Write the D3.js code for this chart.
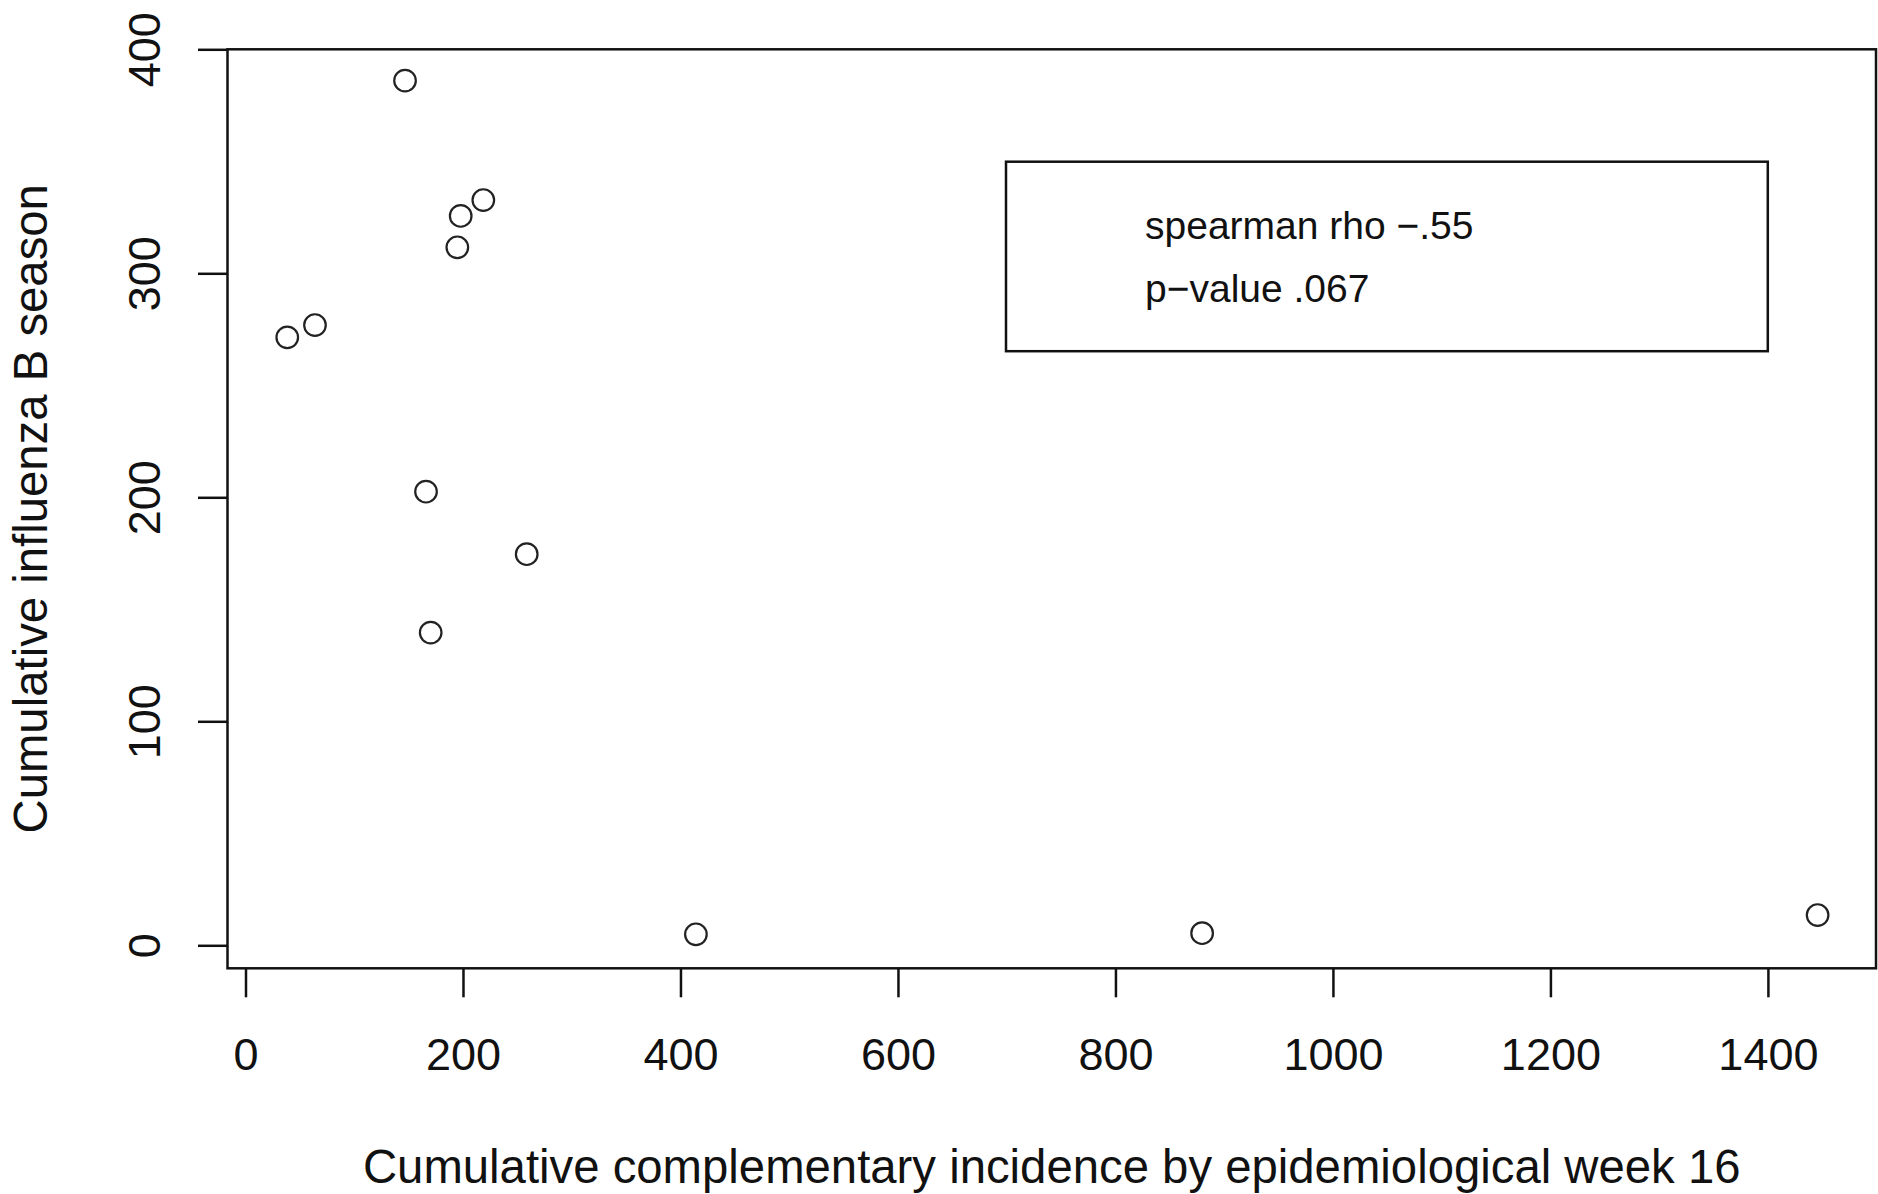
<!DOCTYPE html>
<html>
<head>
<meta charset="utf-8">
<script src="https://cdn.jsdelivr.net/npm/d3@7"></script>
<style>
  body { margin: 0; background: #fff; }
  svg text { font-family: "Liberation Sans", Arial, sans-serif; fill: #111; }
  .axis line { stroke: #111; stroke-width: 2.5; }
  .axis path { display: none; }
</style>
</head>
<body>
<svg width="1878" height="1194"></svg>
<script>
// complementary incidence (x) vs influenza B season (y), one point per season
var incidence = [146.7, 197.9, 218.7, 194.8, 38.4, 63.9, 166.0, 258.6, 170.3, 414.2, 879.7, 1445.7];
var fluB      = [386.0, 325.6, 332.7, 311.6, 271.4, 276.9, 202.5, 174.6, 139.6, 4.9, 5.4, 13.5];

var xTicks = [0, 200, 400, 600, 800, 1000, 1200, 1400];
var yTicks = [0, 100, 200, 300, 400];
var legendLines = ["spearman rho \u2212.55", "p\u2212value .067"];

var xTitle = "Cumulative complementary incidence by epidemiological week 16";
var yTitle = "Cumulative influenza B season";

// note: "top" is window.top, so plot edges get their own names
var svg = d3.select("svg"),
    plotLeft = 227.5, plotRight = 1876, plotTop = 49.3, plotBottom = 968.3;

var x = d3.scaleLinear()
    .domain([-16.55, 1499.4])
    .range([plotLeft, plotRight]);

var y = d3.scaleLinear()
    .domain([-10.27, 400])
    .range([plotBottom, plotTop]);

// x axis
var gx = svg.append("g")
    .attr("class", "axis")
    .attr("transform", "translate(0," + plotBottom + ")")
    .call(d3.axisBottom(x).tickValues(xTicks).tickSize(29).tickSizeOuter(0));
gx.selectAll("text").remove();
gx.selectAll(".tick").append("text")
    .attr("y", 102)
    .attr("text-anchor", "middle")
    .style("font-size", "45px")
    .text(function(d) { return d; });

// y axis, labels rotated like base R
var gy = svg.append("g")
    .attr("class", "axis")
    .attr("transform", "translate(" + plotLeft + ",0)")
    .call(d3.axisLeft(y).tickValues(yTicks).tickSize(29.5).tickSizeOuter(0));
gy.selectAll("text").remove();
gy.selectAll(".tick").append("text")
    .attr("transform", "translate(-68,0) rotate(-90)")
    .attr("text-anchor", "middle")
    .style("font-size", "45px")
    .text(function(d) { return d; });

// plot box
svg.append("rect")
    .attr("x", plotLeft)
    .attr("y", plotTop)
    .attr("width", plotRight - plotLeft)
    .attr("height", plotBottom - plotTop)
    .style("fill", "none")
    .style("stroke", "#111")
    .style("stroke-width", 2.5);

// points
svg.append("g")
  .selectAll("circle")
  .data(incidence)
  .enter().append("circle")
    .attr("cx", function(d) { return x(d); })
    .attr("cy", function(d, i) { return y(fluB[i]); })
    .attr("r", 10.8)
    .style("fill", "none")
    .style("stroke", "#222")
    .style("stroke-width", 2.2);

// legend box
var legend = svg.append("g");
legend.append("rect")
    .attr("x", 1006)
    .attr("y", 161.7)
    .attr("width", 761.8)
    .attr("height", 189.5)
    .style("fill", "#fff")
    .style("stroke", "#111")
    .style("stroke-width", 2.5);
legend.selectAll("text")
  .data(legendLines)
  .enter().append("text")
    .attr("x", 1145)
    .attr("y", function(d, i) { return 238.5 + i * 63; })
    .style("font-size", "39px")
    .text(function(d) { return d; });

// axis titles
svg.append("text")
    .attr("x", (plotLeft + plotRight) / 2)
    .attr("y", 1183)
    .attr("text-anchor", "middle")
    .style("font-size", "47.3px")
    .text(xTitle);

svg.append("text")
    .attr("transform", "translate(47," + (plotTop + plotBottom) / 2 + ") rotate(-90)")
    .attr("text-anchor", "middle")
    .style("font-size", "47.3px")
    .text(yTitle);
</script>
</body>
</html>
